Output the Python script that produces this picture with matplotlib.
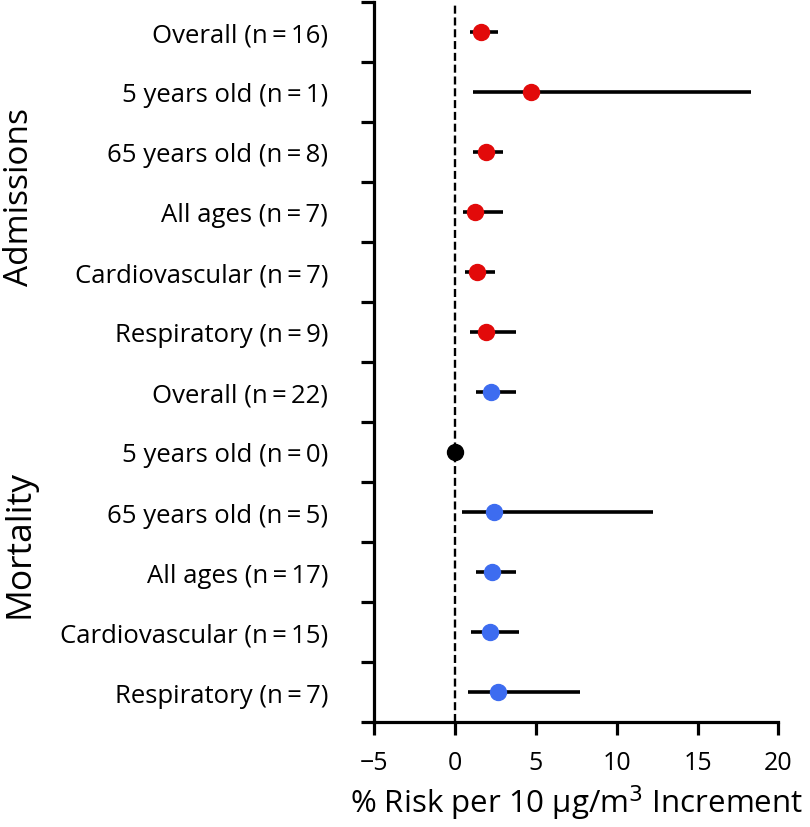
import numpy as np
import matplotlib
matplotlib.use("Agg")
from matplotlib import pyplot as plt

plt.rcParams["font.family"] = ["Open Sans", "DejaVu Sans"]

ts = "\u2009"
labels = ["Overall (n=16)", "5 years old (n=1)", "65 years old (n=8)",
          "All ages (n=7)", "Cardiovascular (n=7)", "Respiratory (n=9)",
          "Overall (n=22)", "5 years old (n=0)", "65 years old (n=5)",
          "All ages (n=17)", "Cardiovascular (n=15)", "Respiratory (n=7)"]
labels = [l.replace("=", ts + "=" + ts) for l in labels]
est = [1.63, 4.70, 1.92, 1.24, 1.36, 1.94,
       2.25, 0.0, 2.43, 2.27, 2.20, 2.66]
lo = [0.95, 1.15, 1.15, 0.53, 0.64, 0.95,
      1.28, np.nan, 0.43, 1.28, 1.01, 0.84]
hi = [2.64, 18.3, 2.95, 2.95, 2.51, 3.79,
      3.79, np.nan, 12.25, 3.79, 3.98, 7.75]
groups = ["Admissions"] * 6 + ["Mortality"] * 6
n_none = [False] * 7 + [True] + [False] * 4

red = "#e20a0a"
blue = "#3d6cf0"

fig = plt.figure(figsize=(8.10, 8.28), dpi=100)
ax = fig.add_axes([0.4617, 0.1268, 0.9610 - 0.4617, 0.9964 - 0.1268])

ypos = np.arange(len(labels))
ax.axvline(0, color="black", lw=1.7, ls=(0, (3.4, 1.6)), zorder=1)

for i in ypos:
    if n_none[i]:
        c = "black"
    else:
        c = red if groups[i] == "Admissions" else blue
    if not np.isnan(lo[i]):
        ax.plot([lo[i], hi[i]], [i, i], color="black", lw=2.6,
                solid_capstyle="butt", zorder=2)
    ax.plot(est[i], i, "o", color=c, ms=11.5, mec=c, zorder=3)

ax.set_xlim(-5, 20)
ax.set_ylim(len(labels) - 0.5, -0.5)

ax.spines["top"].set_visible(False)
ax.spines["right"].set_visible(False)
for s in ["left", "bottom"]:
    ax.spines[s].set_linewidth(2.3)

ax.set_xticks([-5, 0, 5, 10, 15, 20])
ax.set_xticklabels(["\u22125", "0", "5", "10", "15", "20"])
ax.tick_params(axis="x", direction="out", length=9.4, width=2.3,
               labelsize=18, pad=11)

ax.set_yticks(np.arange(-0.5, len(labels), 1.0))
ax.set_yticklabels([])
ax.tick_params(axis="y", which="major", direction="out", length=9.4, width=2.3)
ax.set_yticks(ypos, minor=True)
ax.set_yticklabels(labels, minor=True)
ax.tick_params(axis="y", which="minor", length=0, labelsize=18.5, pad=33)

ax.set_xlabel("% Risk per 10 \u03bcg/m$^3$ Increment", fontsize=22.5)
ax.xaxis.set_label_coords(0.5, -0.111)
ax.xaxis.label.set_va("center")

fig.text(20 / 810, 1 - 197 / 828, "Admissions", rotation=90, fontsize=24,
         ha="center", va="center")
fig.text(20 / 810, 1 - 544 / 828, "Mortality", rotation=90, fontsize=25.5,
         ha="center", va="center")

fig.savefig("out.png", dpi=100)
